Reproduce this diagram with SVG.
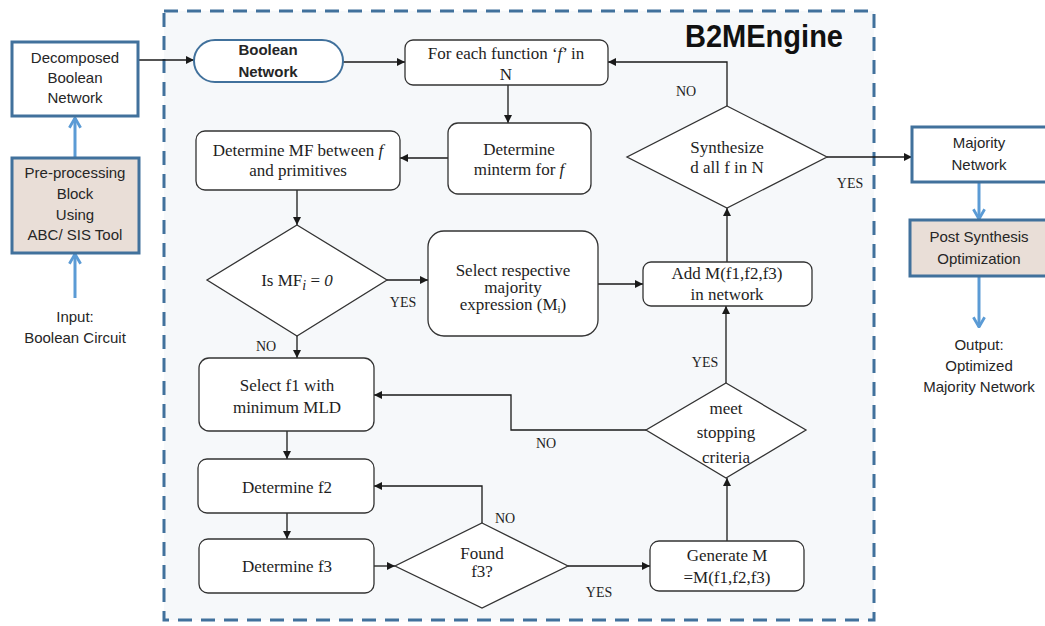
<svg xmlns="http://www.w3.org/2000/svg" width="1045" height="626" viewBox="0 0 1045 626">
  <style>
    .serif { font-family: "Liberation Serif", "Times New Roman", serif; font-size: 17px; fill: #1e1e1e; text-anchor: middle; }
    .lbl { font-family: "Liberation Serif", "Times New Roman", serif; font-size: 14px; fill: #1e1e1e; text-anchor: middle; }
    .sans { font-family: "Liberation Sans", Arial, sans-serif; font-size: 15px; fill: #262626; text-anchor: middle; }
    .proc { fill: #ffffff; stroke: #333333; stroke-width: 1.3; }
    .dec { fill: #ffffff; stroke: #333333; stroke-width: 1.3; }
    .io { fill: #ffffff; stroke: #41719c; stroke-width: 3; }
    .tool { fill: #e9ded7; stroke: #41719c; stroke-width: 3; }
    .flow { fill: none; stroke: #1a1a1a; stroke-width: 1.3; marker-end: url(#arrow); }
    .bflow { fill: none; stroke: #5b9bd5; stroke-width: 3; marker-end: url(#chev); }
  </style>
  <defs>
    <marker id="arrow" viewBox="0 0 10 10" refX="10" refY="5" markerWidth="9" markerHeight="8" markerUnits="userSpaceOnUse" orient="auto">
      <path d="M0,0 L10,5 L0,10 z" fill="#1a1a1a"/>
    </marker>
    <marker id="chev" viewBox="0 0 10 10" refX="9" refY="5" markerWidth="14" markerHeight="16" markerUnits="userSpaceOnUse" orient="auto">
      <path d="M2,1 L9,5 L2,9" fill="none" stroke="#5b9bd5" stroke-width="2"/>
    </marker>
  </defs>

  <rect x="0" y="0" width="1045" height="626" fill="#ffffff"/>

  <!-- engine boundary -->
  <g id="engine">
    <rect x="164" y="11" width="710" height="609" fill="#f6f8fa" stroke="#41719c" stroke-width="3" stroke-dasharray="14 9"/>
    <text x="843" y="47" font-family="Liberation Sans, Arial, sans-serif" font-size="32" font-weight="bold" fill="#111111" text-anchor="end" textLength="158" lengthAdjust="spacingAndGlyphs">B2MEngine</text>
  </g>

  <!-- connectors -->
  <g id="connectors">
    <path class="flow" d="M138,60 H194"/>
    <path class="flow" d="M343,62 H405"/>
    <path class="flow" d="M508,85 V123"/>
    <path class="flow" d="M448,158 H400"/>
    <path class="flow" d="M297,190 V225"/>
    <path class="flow" d="M387,280 H428"/>
    <path class="flow" d="M598,284 H643"/>
    <path class="flow" d="M727,262 V208"/>
    <path class="flow" d="M727,106 V62 H608"/>
    <path class="flow" d="M827,157 H912"/>
    <path class="flow" d="M297,336 V358"/>
    <path class="flow" d="M646,430 H511 V395 H374"/>
    <path class="flow" d="M287,431 V459"/>
    <path class="flow" d="M287,513 V539"/>
    <path class="flow" d="M374,566 H395"/>
    <path class="flow" d="M482,523 V486 H374"/>
    <path class="flow" d="M568,566 H650"/>
    <path class="flow" d="M727,541 V478"/>
    <path class="flow" d="M726,383 V306"/>
    <path class="bflow" d="M75,157 V118"/>
    <path class="bflow" d="M75,298 V254"/>
    <path class="bflow" d="M979,182 V219"/>
    <path class="bflow" d="M979,276 V327"/>
    <text class="lbl" x="686" y="96">NO</text>
    <text class="lbl" x="850" y="188">YES</text>
    <text class="lbl" x="403" y="307">YES</text>
    <text class="lbl" x="266" y="351">NO</text>
    <text class="lbl" x="705" y="367">YES</text>
    <text class="lbl" x="546" y="448">NO</text>
    <text class="lbl" x="505" y="523">NO</text>
    <text class="lbl" x="599" y="597">YES</text>
  </g>

  <!-- outside blocks -->
  <g id="decomposed">
    <rect class="io" x="12" y="42" width="126" height="74"/>
    <text class="sans" x="75" y="63">Decomposed</text>
    <text class="sans" x="75" y="83">Boolean</text>
    <text class="sans" x="75" y="103">Network</text>
  </g>
  <g id="preprocessing">
    <rect class="tool" x="12" y="158" width="127" height="95"/>
    <text class="sans" x="75" y="178">Pre-processing</text>
    <text class="sans" x="75" y="199">Block</text>
    <text class="sans" x="75" y="220">Using</text>
    <text class="sans" x="75" y="240">ABC/ SIS Tool</text>
  </g>
  <g id="input">
    <text class="sans" x="75" y="322">Input:</text>
    <text class="sans" x="75" y="343">Boolean Circuit</text>
  </g>
  <g id="majority">
    <rect class="io" x="912" y="127" width="140" height="55"/>
    <text class="sans" x="979" y="148">Majority</text>
    <text class="sans" x="979" y="170">Network</text>
  </g>
  <g id="postsynth">
    <rect class="tool" x="910" y="220" width="142" height="56"/>
    <text class="sans" x="979" y="242">Post Synthesis</text>
    <text class="sans" x="979" y="264">Optimization</text>
  </g>
  <g id="output">
    <text class="sans" x="979" y="350">Output:</text>
    <text class="sans" x="979" y="371">Optimized</text>
    <text class="sans" x="979" y="392">Majority Network</text>
  </g>

  <!-- engine flow -->
  <g id="boolean-network">
    <rect x="194" y="40" width="149" height="42" rx="21" fill="#ffffff" stroke="#41719c" stroke-width="2"/>
    <text class="sans" x="268" y="55" font-weight="bold">Boolean</text>
    <text class="sans" x="268" y="77" font-weight="bold">Network</text>
  </g>
  <g id="for-each">
    <rect class="proc" x="405" y="40" width="203" height="45" rx="8"/>
    <text class="serif" x="506" y="59">For each function  ‘<tspan font-style="italic">f</tspan>’ in</text>
    <text class="serif" x="506" y="80">N</text>
  </g>
  <g id="minterm">
    <rect class="proc" x="448" y="123" width="143" height="71" rx="10"/>
    <text class="serif" x="519" y="155">Determine</text>
    <text class="serif" x="519" y="175">minterm for <tspan font-style="italic">f</tspan></text>
  </g>
  <g id="determine-mf">
    <rect class="proc" x="196" y="131" width="204" height="59" rx="9"/>
    <text class="serif" x="298" y="156">Determine MF between <tspan font-style="italic">f</tspan></text>
    <text class="serif" x="298" y="176">and primitives</text>
  </g>
  <g id="is-mf-zero">
    <polygon class="dec" points="297,225 387,280 297,336 207,280"/>
    <text class="serif" x="297" y="286">Is MF<tspan font-style="italic" font-size="14" dy="4">i</tspan><tspan dy="-4"> = </tspan><tspan font-style="italic">0</tspan></text>
  </g>
  <g id="select-respective">
    <rect class="proc" x="428" y="231" width="170" height="105" rx="16"/>
    <text class="serif" x="513" y="276">Select respective</text>
    <text class="serif" x="513" y="293">majority</text>
    <text class="serif" x="513" y="310">expression (M<tspan font-size="11" dy="3">i</tspan><tspan dy="-3">)</tspan></text>
  </g>
  <g id="add-m">
    <rect class="proc" x="643" y="262" width="169" height="44" rx="8"/>
    <text class="serif" x="727" y="279">Add M(f1,f2,f3)</text>
    <text class="serif" x="727" y="300">in network</text>
  </g>
  <g id="synthesized">
    <polygon class="dec" points="727,106 827,157 727,208 627,157"/>
    <text class="serif" x="727" y="153">Synthesize</text>
    <text class="serif" x="727" y="173">d all f in N</text>
  </g>
  <g id="stopping">
    <polygon class="dec" points="726,383 806,430 726,478 646,430"/>
    <text class="serif" x="726" y="414" font-size="20">meet</text>
    <text class="serif" x="726" y="438" font-size="20">stopping</text>
    <text class="serif" x="726" y="463" font-size="20">criteria</text>
  </g>
  <g id="select-f1">
    <rect class="proc" x="199" y="358" width="175" height="73" rx="10"/>
    <text class="serif" x="287" y="391">Select f1 with</text>
    <text class="serif" x="287" y="413">minimum MLD</text>
  </g>
  <g id="determine-f2">
    <rect class="proc" x="198" y="459" width="176" height="54" rx="9"/>
    <text class="serif" x="287" y="493">Determine f2</text>
  </g>
  <g id="determine-f3">
    <rect class="proc" x="199" y="539" width="175" height="54" rx="9"/>
    <text class="serif" x="287" y="572">Determine f3</text>
  </g>
  <g id="found-f3">
    <polygon class="dec" points="482,523 568,566 482,608 395,566"/>
    <text class="serif" x="482" y="559" font-size="16">Found</text>
    <text class="serif" x="482" y="577" font-size="16">f3?</text>
  </g>
  <g id="generate-m">
    <rect class="proc" x="650" y="541" width="154" height="50" rx="9"/>
    <text class="serif" x="727" y="561">Generate M</text>
    <text class="serif" x="727" y="583">=M(f1,f2,f3)</text>
  </g>
</svg>
